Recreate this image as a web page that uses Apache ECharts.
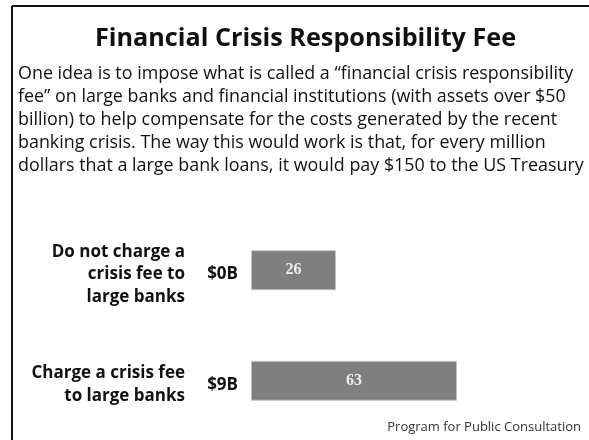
<!DOCTYPE html>
<html>
<head>
<meta charset="utf-8">
<script src="https://cdn.jsdelivr.net/npm/echarts@6/dist/echarts.min.js"></script>
<style>
  html, body { margin: 0; padding: 0; background: #fff; }
  #chart { width: 589px; height: 440px; }
</style>
</head>
<body>
<div id="chart"></div>
<script>
// chart data
const categories = [
  'Do not charge a\ncrisis fee to\nlarge banks',
  'Charge a crisis fee\nto large banks'
]
const amounts = ['$0B', '$9B']
const values = [26, 63]

const titleText = 'Financial Crisis Responsibility Fee'
const introLines = [
  'One idea is to impose what is called a \u201cfinancial crisis responsibility',
  'fee\u201d on large banks and financial institutions (with assets over $50',
  'billion) to help compensate for the costs generated by the recent',
  'banking crisis. The way this would work is that, for every million',
  'dollars that a large bank loans, it would pay $150 to the US Treasury'
]
const sourceText = 'Program for Public Consultation'

const font = '"Open Sans", Lato, sans-serif'

// a thin empty first line nudges the label block a few px down
const nudge = v => '{s| }\n' + v
const nudgeRich = { s: { fontSize: 1, lineHeight: 8 } }

const chart = echarts.init(document.getElementById('chart'))

chart.setOption({
  animation: false,
  title: {
    text: titleText,
    left: 90,
    top: 21,
    textStyle: { fontFamily: font, fontSize: 25.2, fontWeight: 'bold', color: '#111' }
  },
  graphic: [
    // frame: top and left rules
    { type: 'line', shape: { x1: 12, y1: 6, x2: 589, y2: 6 }, style: { stroke: '#111', lineWidth: 2 } },
    { type: 'line', shape: { x1: 12, y1: 6, x2: 12, y2: 440 }, style: { stroke: '#111', lineWidth: 2 } },
    {
      type: 'text',
      left: 18,
      top: 63,
      style: {
        text: introLines.join('\n'),
        font: '17.9px ' + font,
        lineHeight: 22.8,
        fill: '#111'
      }
    },
    {
      type: 'text',
      right: 8,
      top: 421,
      style: { text: sourceText, font: '13px ' + font, fill: '#333' }
    }
  ],
  grid: { left: 251, top: 215, width: 327, height: 221 },
  xAxis: { type: 'value', min: 0, max: 100, show: false },
  yAxis: [
    {
      type: 'category',
      data: categories,
      inverse: true,
      axisLine: { show: false },
      axisTick: { show: false },
      axisLabel: {
        margin: 66,
        fontFamily: font,
        fontSize: 17,
        fontWeight: 'bold',
        lineHeight: 22.5,
        color: '#111',
        align: 'right',
        formatter: nudge,
        rich: nudgeRich
      }
    },
    {
      type: 'category',
      data: amounts,
      inverse: true,
      position: 'left',
      axisLine: { show: false },
      axisTick: { show: false },
      axisLabel: {
        margin: 13,
        fontFamily: font,
        fontSize: 17,
        fontWeight: 'bold',
        lineHeight: 22,
        color: '#111',
        formatter: nudge,
        rich: nudgeRich
      }
    }
  ],
  series: [{
    type: 'bar',
    data: values,
    barWidth: 40,
    itemStyle: { color: '#7f7f7f', borderColor: '#c4c4c4', borderWidth: 1 },
    label: {
      show: true,
      position: 'inside',
      color: '#eee',
      fontFamily: '"Liberation Serif", "DejaVu Serif", serif',
      fontWeight: 'bold',
      fontSize: 16
    }
  }]
})
</script>
</body>
</html>
